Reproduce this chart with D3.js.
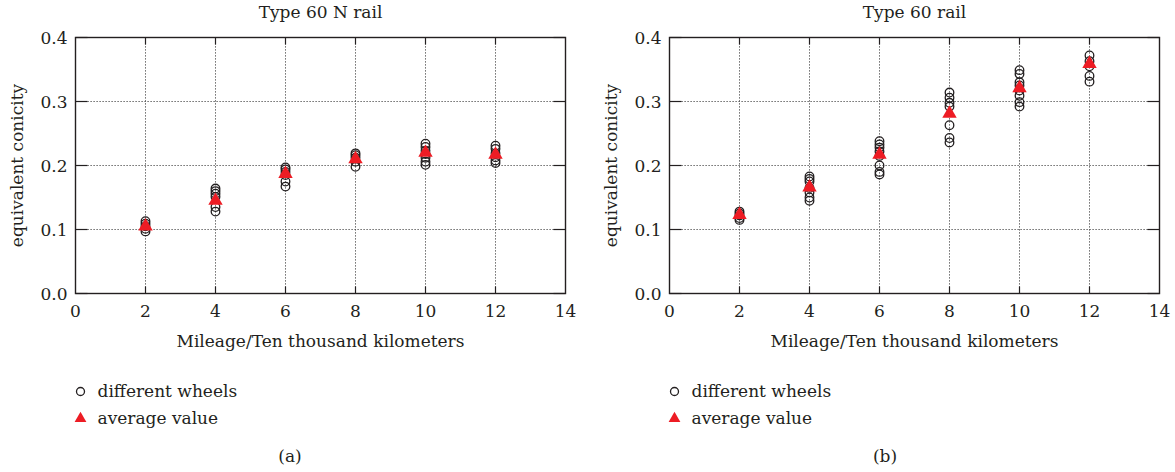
<!DOCTYPE html>
<html>
<head>
<meta charset="utf-8">
<script src="https://cdn.jsdelivr.net/npm/d3@7"></script>
<style>
  html, body { margin: 0; padding: 0; background: #fff; }
  svg { display: block; }
</style>
</head>
<body>
<svg id="chart" width="1175" height="472"></svg>
<script>
// Mileage positions (ten thousand km)
const mileage = [2, 4, 6, 8, 10, 12];

// Type 60 N rail: equivalent conicity per wheel, grouped by mileage
const wheels60N = [
  [0.113, 0.109, 0.105, 0.101, 0.097],
  [0.164, 0.160, 0.156, 0.151, 0.135, 0.128],
  [0.197, 0.194, 0.190, 0.185, 0.175, 0.167],
  [0.219, 0.216, 0.212, 0.206, 0.198],
  [0.234, 0.229, 0.223, 0.218, 0.212, 0.206, 0.201],
  [0.231, 0.226, 0.219, 0.213, 0.208, 0.204]
];
const avg60N = [0.105, 0.145, 0.187, 0.210, 0.220, 0.217];

// Type 60 rail
const wheels60 = [
  [0.128, 0.125, 0.122, 0.118, 0.115],
  [0.183, 0.179, 0.175, 0.165, 0.158, 0.150, 0.145],
  [0.238, 0.233, 0.228, 0.222, 0.215, 0.200, 0.190, 0.186],
  [0.314, 0.306, 0.298, 0.292, 0.263, 0.243, 0.236],
  [0.349, 0.343, 0.330, 0.325, 0.317, 0.309, 0.299, 0.292],
  [0.372, 0.363, 0.355, 0.340, 0.331]
];
const avg60 = [0.123, 0.166, 0.217, 0.281, 0.321, 0.359];

const xTicks = [0, 2, 4, 6, 8, 10, 12, 14];
const yTicks = [0.0, 0.1, 0.2, 0.3, 0.4];

const FONT = "'DejaVu Serif', 'Liberation Serif', serif";
const FS = 17;
const svg = d3.select("#chart").attr("font-family", FONT);
const ink = "#231f20";
const red = "#ed1c24";

function label(g, x, y, txt, size, anchor) {
  return g.append("text").attr("x", x).attr("y", y)
    .attr("text-anchor", anchor || "start")
    .style("font-family", FONT).attr("font-size", size).attr("fill", ink).text(txt);
}

function panel(opt) {
  const x = d3.scaleLinear().domain([0, 14]).range([opt.left, opt.left + 490]);
  const y = d3.scaleLinear().domain([0, 0.4]).range([293.5, 37.5]);
  const g = svg.append("g");

  // dotted grid
  g.selectAll(".gx").data(xTicks.slice(1, -1)).enter().append("line")
    .attr("x1", d => x(d)).attr("x2", d => x(d))
    .attr("y1", y(0)).attr("y2", y(0.4))
    .attr("stroke", "#444").attr("stroke-width", 1).attr("stroke-dasharray", "1.2,1.8");
  g.selectAll(".gy").data(yTicks.slice(1, -1)).enter().append("line")
    .attr("x1", x(0)).attr("x2", x(14))
    .attr("y1", d => y(d)).attr("y2", d => y(d))
    .attr("stroke", "#444").attr("stroke-width", 1).attr("stroke-dasharray", "1.2,1.8");

  // inward tick marks on all four sides
  const tk = 7;
  xTicks.slice(1, -1).forEach(v => {
    g.append("line").attr("x1", x(v)).attr("x2", x(v)).attr("y1", y(0)).attr("y2", y(0) - tk)
      .attr("stroke", ink).attr("stroke-width", 1.2);
    g.append("line").attr("x1", x(v)).attr("x2", x(v)).attr("y1", y(0.4)).attr("y2", y(0.4) + tk)
      .attr("stroke", ink).attr("stroke-width", 1.2);
  });
  yTicks.forEach(v => {
    g.append("line").attr("x1", x(0)).attr("x2", x(0) + 12).attr("y1", y(v)).attr("y2", y(v))
      .attr("stroke", ink).attr("stroke-width", 1.2);
    g.append("line").attr("x1", x(14)).attr("x2", x(14) - 12).attr("y1", y(v)).attr("y2", y(v))
      .attr("stroke", ink).attr("stroke-width", 1.2);
  });

  // frame
  g.append("rect").attr("x", x(0)).attr("y", y(0.4))
    .attr("width", x(14) - x(0)).attr("height", y(0) - y(0.4))
    .attr("fill", "none").attr("stroke", ink).attr("stroke-width", 1.4);

  // tick labels
  xTicks.forEach(d => label(g, x(d), 317, d, FS, "middle"));
  yTicks.forEach(d => label(g, x(0) - 8, y(d) + 6, d.toFixed(1), FS, "end"));

  // titles
  const cx = (x(0) + x(14)) / 2;
  label(g, cx, 18, opt.title, FS, "middle");
  label(g, cx, 347, "Mileage/Ten thousand kilometers", FS, "middle");
  label(g, 0, 0, "equivalent conicity", FS, "middle")
    .attr("transform", `translate(${x(0) - 53},${(y(0) + y(0.4)) / 2}) rotate(-90)`);

  // wheel measurements
  const pts = [];
  opt.wheels.forEach((arr, i) => arr.forEach(v => pts.push({ m: mileage[i], v })));
  g.selectAll(".pt").data(pts).enter().append("circle")
    .attr("cx", d => x(d.m)).attr("cy", d => y(d.v)).attr("r", 4.3)
    .attr("fill", "none").attr("stroke", ink).attr("stroke-width", 1.3);

  // averages
  const tri = d3.symbol().type(d3.symbolTriangle).size(90);
  g.selectAll(".avg").data(opt.avg).enter().append("path")
    .attr("d", tri)
    .attr("transform", (d, i) => `translate(${x(mileage[i])},${y(d)})`)
    .attr("fill", red);

  // legend
  const lx = x(0) + 5;
  g.append("circle").attr("cx", lx).attr("cy", 391.5).attr("r", 4)
    .attr("fill", "none").attr("stroke", ink).attr("stroke-width", 1.3);
  label(g, lx + 17, 397, "different wheels", FS);
  g.append("path").attr("d", d3.symbol().type(d3.symbolTriangle).size(60))
    .attr("transform", `translate(${lx},${418.5})`).attr("fill", red);
  label(g, lx + 17, 424, "average value", FS);

  label(g, opt.capX, 462, opt.caption, FS, "middle");
}

panel({ left: 75.5, title: "Type 60 N rail", wheels: wheels60N, avg: avg60N, caption: "(a)", capX: 290 });
panel({ left: 669.5, title: "Type 60 rail", wheels: wheels60, avg: avg60, caption: "(b)", capX: 885 });
</script>
</body>
</html>
